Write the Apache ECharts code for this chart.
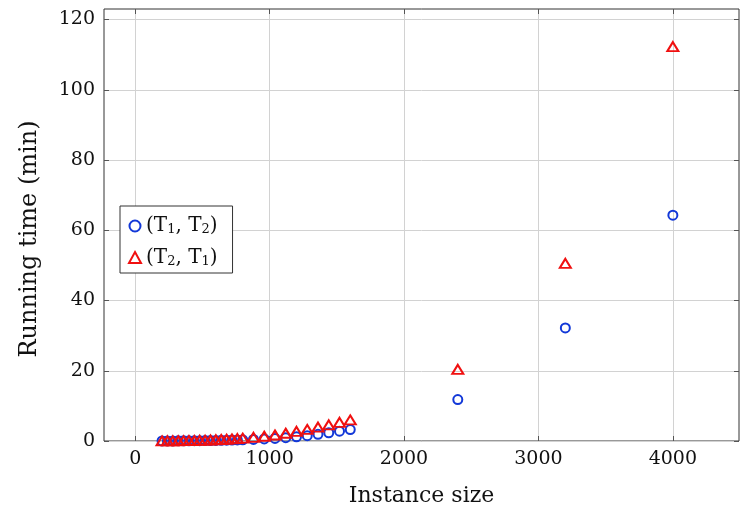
<!DOCTYPE html>
<html>
<head>
<meta charset="utf-8">
<script src="https://cdn.jsdelivr.net/npm/echarts@6/dist/echarts.min.js"></script>
<style>
  html, body { margin: 0; padding: 0; background: #fff; }
  #chart { width: 753px; height: 513px; }
</style>
</head>
<body>
<div id="chart"></div>
<script>
// Instance sizes (shared by both orderings)
const sizes = [200, 240, 280, 320, 360, 400, 440, 480, 520, 560, 600, 640, 680, 720, 760, 800,
               880, 960, 1040, 1120, 1200, 1280, 1360, 1440, 1520, 1600,
               2400, 3200, 4000];
// Running times in minutes, ordering (T1, T2)
const timesT1T2 = [0.01, 0.02, 0.03, 0.04, 0.05, 0.06, 0.08, 0.10, 0.12, 0.14, 0.16, 0.19, 0.22, 0.26, 0.30, 0.34,
                   0.45, 0.58, 0.74, 0.93, 1.20, 1.50, 1.90, 2.35, 2.80, 3.25,
                   11.8, 32.2, 64.3];
// Running times in minutes, ordering (T2, T1)
const timesT2T1 = [0.02, 0.03, 0.05, 0.07, 0.09, 0.12, 0.15, 0.19, 0.24, 0.29, 0.35, 0.42, 0.50, 0.58, 0.68, 0.80,
                   1.05, 1.35, 1.70, 2.20, 2.75, 3.30, 3.95, 4.60, 5.30, 6.00,
                   20.4, 50.6, 112.3];
const xTicks = [0, 1000, 2000, 3000, 4000];
const yTicks = [0, 20, 40, 60, 80, 100, 120];

const FONT = 'DejaVu Serif';
const gridColor = '#d2d2d2';
const tickColor = '#555';

function pairs(xs, ys) { return xs.map((x, i) => [x, ys[i]]); }
function plain(v) { return String(v); }

const chart = echarts.init(document.getElementById('chart'), null, { renderer: 'canvas' });

const tickStyle = (vals) => ({ show: true, inside: true, length: 5, customValues: vals, lineStyle: { color: tickColor } });

const mainX = {
  type: 'value', min: -232, max: 4492,
  name: 'Instance size', nameLocation: 'middle', nameGap: 44,
  nameTextStyle: { fontFamily: FONT, fontSize: 22, color: '#111' },
  axisLine: { show: false, onZero: false },
  axisTick: tickStyle(xTicks),
  axisLabel: { customValues: xTicks, formatter: plain, fontFamily: FONT, fontSize: 19, color: '#111', margin: 9 },
  splitLine: { show: true, lineStyle: { color: gridColor, width: 1 } }
};
const mainY = {
  type: 'value', min: 0, max: 123,
  name: 'Running time (min)', nameLocation: 'middle', nameGap: 62,
  nameTextStyle: { fontFamily: FONT, fontSize: 24, color: '#111', padding: [0, 28, 0, 0] },
  axisLine: { show: false, onZero: false },
  axisTick: tickStyle(yTicks),
  axisLabel: { customValues: yTicks, formatter: plain, fontFamily: FONT, fontSize: 19, color: '#111', margin: 9 },
  splitLine: { show: true, lineStyle: { color: gridColor, width: 1 } }
};
// Mirror axes on top and right carry only inward tick marks
const mirrorX = {
  type: 'value', min: -232, max: 4492, position: 'top',
  axisLine: { show: false, onZero: false },
  axisTick: tickStyle(xTicks),
  axisLabel: { show: false }, splitLine: { show: false }
};
const mirrorY = {
  type: 'value', min: 0, max: 123, position: 'right',
  axisLine: { show: false, onZero: false },
  axisTick: tickStyle(yTicks),
  axisLabel: { show: false }, splitLine: { show: false }
};

const blue = '#1238d8';
const red = '#f01010';

chart.setOption({
  animation: false,
  backgroundColor: '#fff',
  grid: {
    left: 104, right: 14, top: 9, bottom: 72,
    show: true, borderColor: '#333', borderWidth: 1, backgroundColor: 'transparent'
  },
  xAxis: [mainX, mirrorX],
  yAxis: [mainY, mirrorY],
  legend: {
    orient: 'vertical', left: 120, top: 206,
    padding: [10, 15, 5, 8], itemGap: 11, itemWidth: 12, itemHeight: 11,
    borderColor: '#333', borderWidth: 1, borderRadius: 0, backgroundColor: '#fff',
    formatter: function (name) {
      return name === 'T1T2' ? '(T{s|1}, T{s|2})' : '(T{s|2}, T{s|1})';
    },
    textStyle: {
      fontFamily: FONT, fontSize: 20, color: '#111',
      rich: { s: { fontFamily: FONT, fontSize: 13, color: '#111', verticalAlign: 'bottom', padding: [8, 0, 0, 0] } }
    },
    data: [
      { name: 'T1T2', icon: 'circle', itemStyle: { color: 'transparent', borderColor: blue, borderWidth: 2, opacity: 1 } },
      { name: 'T2T1', icon: 'triangle', itemStyle: { color: 'transparent', borderColor: red, borderWidth: 2, opacity: 1 } }
    ]
  },
  series: [
    {
      name: 'T1T2', type: 'scatter', xAxisIndex: 0, yAxisIndex: 0,
      symbol: 'circle', symbolSize: 9,
      itemStyle: { color: 'transparent', borderColor: blue, borderWidth: 2, opacity: 1 },
      data: pairs(sizes, timesT1T2), z: 3
    },
    {
      name: 'T2T1', type: 'scatter', xAxisIndex: 0, yAxisIndex: 0,
      symbol: 'triangle', symbolSize: [11, 9],
      itemStyle: { color: 'transparent', borderColor: red, borderWidth: 2, opacity: 1 },
      data: pairs(sizes, timesT2T1), z: 4
    }
  ]
});
</script>
</body>
</html>
